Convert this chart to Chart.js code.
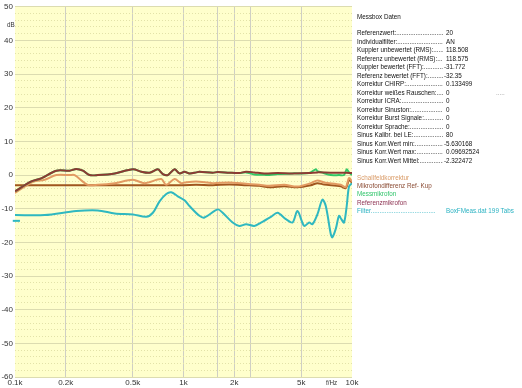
<!DOCTYPE html>
<html lang="de">
<head>
<meta charset="UTF-8">
<title>Messbox Daten</title>
<script src="https://cdn.jsdelivr.net/npm/chart.js"></script>
<style>
  body { margin: 0; background: #fff; font-family: "Liberation Sans", Arial, sans-serif; }
  #wrap { position: relative; width: 522px; height: 388px; overflow: hidden; }
  #wrap canvas { position: absolute; left: 0; top: 0; }
  .t { position: absolute; font-size: 7px; line-height: 8px; white-space: nowrap; color: #111; }
  .t span { display: inline-block; transform: scaleX(0.9); transform-origin: left center; }
  .lbl { overflow: hidden; }
</style>
</head>
<body>
<div id="wrap">
  <canvas id="chart" width="522" height="388"></canvas>
  <div id="panel"></div>
</div>
<script>
  // Frequenzgaenge [Hz, dB]
  const referenzmikrofon = [
    [100, -4.8], [125, -1.9], [143, -1], [176, 1.3], [211, 1.3], [231, 1.8], [253, 1.3],
    [277, 0], [310, 0], [391, 0.5], [501, 1.7], [562, 1.0], [629, 0.7], [704, 1.7],
    [754, 0.3], [807, 0], [885, 1.7], [947, 0.5], [1014, 1.0], [1085, 0.5], [1189, 0.8],
    [1243, 1.0], [1490, 0.7], [1596, 0.9], [1871, 0.7], [2143, 0.6], [2350, 1.0],
    [2630, 0.8], [3015, 0.5], [3614, 0.6], [4435, 0.5], [5568, 0.6], [6233, 0.8],
    [7480, 0.7], [9178, 0.7], [10000, 0.6]
  ]
  const messmikrofon = [
    [100, -4.8], [125, -1.9], [143, -1], [176, 1.3], [211, 1.3], [231, 1.8], [253, 1.3],
    [277, 0], [310, 0], [391, 0.5], [501, 1.7], [562, 1.0], [629, 0.7], [704, 1.7],
    [754, 0.3], [807, 0], [885, 1.7], [947, 0.5], [1014, 1.0], [1085, 0.5], [1189, 0.8],
    [1243, 1.0], [1490, 0.7], [1596, 0.9], [1871, 0.7], [2143, 0.6], [2350, 0.8],
    [2630, 0.2], [3015, 0.1], [3228, 0], [3614, 0.3], [4435, 0.5], [5568, 0.6],
    [6096, 1.7], [6233, 1.2], [6600, 0.8], [7480, 0], [8377, 0], [8970, 0],
    [9302, 1.7], [9600, 0.8], [10000, 0]
  ]
  const schallfeldkorrektur = [
    [100, -5.3], [128, -2], [150, -1.4], [176, 0], [211, 0], [226, 0], [270, -2.9],
    [310, -2.9], [391, -2.4], [501, -1.4], [588, -2.4], [738, -1.2], [790, -2.9],
    [885, -1.2], [969, -2.4], [1014, -2.2], [1189, -1.9], [1490, -2.4], [1871, -2.2],
    [2350, -2.6], [2817, -2.9], [3228, -3.2], [3960, -2.9], [4748, -3.4], [5697, -2.4],
    [6233, -1.6], [6829, -2.2], [8570, -2.9], [9178, -3.6], [9600, -0.9], [10000, -1.9]
  ]
  const mikrofondifferenz = [
    [100, -3], [1000, -3], [1189, -2.9], [1490, -3.0], [1871, -2.8], [2350, -3.0],
    [2817, -3.2], [3228, -3.6], [3960, -3.3], [4748, -3.6], [5697, -3.0], [6233, -2.4],
    [6829, -2.8], [8570, -3.3], [9178, -3.9], [9600, -1.5], [10000, -2.2]
  ]
  const filterStart = [[97, -13.6], [107, -13.6]]
  const filterKurve = [
    [100, -11.9], [150, -11.9], [231, -10.7], [310, -10.5], [391, -11.4], [501, -11.7],
    [601, -12.4], [658, -11.2], [721, -7.8], [790, -5.6], [846, -5.1], [925, -6.3],
    [1014, -7.5], [1085, -9.2], [1243, -12.1], [1331, -12.6], [1596, -10.2], [1708, -11.2],
    [1957, -14.1], [2143, -15.1], [2350, -14.6], [2630, -15.1], [2883, -14.1],
    [3303, -12.4], [3614, -11.2], [4052, -13.1], [4435, -14.1], [4748, -10.7],
    [5200, -15.1], [5568, -14.1], [5823, -14.6], [6233, -11.7], [6673, -7.3],
    [6990, -9.2], [7480, -17.5], [7644, -18.5], [8011, -16], [8377, -12.1],
    [8642, -13.1], [8970, -14.1], [9302, -9.2], [9600, -3.4], [10000, -2.4]
  ]

  // Achsen
  const xTicks = [100, 200, 500, 1000, 1600, 2000, 2500, 5000, 10000]
  const xTickLabels = { 100: "0.1k", 200: "0.2k", 500: "0.5k", 1000: "1k", 2000: "2k", 5000: "5k", 10000: "10k" }

  // Messbox Daten
  const infoLabels = [
    "Referenzwert:", "Individualfilter:", "Kuppler unbewertet (RMS):", "Referenz unbewertet (RMS):",
    "Kuppler bewertet (FFT):", "Referenz bewertet (FFT):", "Korrektur CHIRP:",
    "Korrektur weißes Rauschen:", "Korrektur ICRA:", "Korrektur Sinuston:",
    "Korrektur Burst Signale:", "Korrektur Sprache:", "Sinus Kalibr. bei LE:",
    "Sinus Korr.Wert min:", "Sinus Korr.Wert max:", "Sinus Korr.Wert Mittel:"
  ]
  const infoValues = [
    "20", "AN", "118.508", "118.575", "-31.772", "-32.35", "0.133499", "0", "0", "0",
    "0", "0", "80", "-5.630168", "0.09692524", "-2.322472"
  ]
  const legendNames = ["Schallfeldkorrektur", "Mikrofondifferenz Ref- Kup", "Messmikrofon", "Referenzmikrofon", "Filter"]
  const legendColors = ["#d99a66", "#8a4a32", "#2fc46a", "#8c3050", "#2ab2c2"]

  const dots = ".".repeat(80)
  const panel = document.getElementById("panel")
  function addText(txt, left, top, color, width) {
    const d = document.createElement("div")
    d.className = "t" + (width ? " lbl" : "")
    d.style.left = left + "px"
    d.style.top = top - 4 + "px"
    if (width) d.style.width = width + "px"
    if (color) d.style.color = color
    const s = document.createElement("span")
    s.textContent = txt
    d.appendChild(s)
    panel.appendChild(d)
  }
  addText("Messbox Daten", 357, 17)
  infoLabels.forEach((l, i) => {
    const y = 33 + i * 8.5
    addText(l + dots, 357, y, null, 86)
    const v = infoValues[i]
    addText(v, v[0] === "-" ? 444 : 446, y)
  })
  addText(".....", 496, 33 + 7 * 8.5, "#999")
  legendNames.forEach((l, i) => {
    const y = 177.5 + i * 8.4
    if (l === "Filter") {
      addText(l + dots, 357, y, legendColors[i], 79)
      addText("BoxFMeas.dat 199 Tabs", 446, y, legendColors[i])
    } else {
      addText(l, 357, y, legendColors[i])
    }
  })
  addText("dB", 7, 25, "#333")
  addText("f/Hz", 326, 383, "#333")

  const toXY = (arr) => arr.map(([x, y]) => ({ x, y }))

  const plotBg = {
    id: "plotBg",
    beforeDraw(chart) {
      const { ctx, chartArea: a } = chart
      ctx.save()
      ctx.fillStyle = "#ffffcc"
      ctx.fillRect(a.left, a.top, a.right - a.left, a.bottom - a.top)
      ctx.restore()
    },
  }

  const line = (data, color, order, extra) => Object.assign({
    data: toXY(data),
    borderColor: color,
    borderWidth: 2,
    pointRadius: 0,
    tension: 0.3,
    fill: false,
    order,
  }, extra || {})

  new Chart(document.getElementById("chart"), {
    type: "line",
    data: {
      datasets: [
        line(referenzmikrofon, "#8c3b33", 1),
        line(messmikrofon, "#33c866", 2),
        line(schallfeldkorrektur, "#e29a62", 3),
        line(mikrofondifferenz, "#a0561e", 4),
        line(filterKurve, "#2fb8c0", 5),
        line(filterStart, "#2fb8c0", 5, { clip: false, tension: 0 }),
      ],
    },
    options: {
      responsive: false,
      animation: false,
      events: [],
      layout: { padding: { top: 5, right: 170, left: 0, bottom: 0 } },
      plugins: { legend: { display: false }, tooltip: { enabled: false } },
      scales: {
        x: {
          type: "logarithmic",
          min: 100,
          max: 10000,
          afterBuildTicks: (s) => { s.ticks = xTicks.map((v) => ({ value: v })) },
          afterFit: (s) => { s.height = 11 },
          ticks: {
            autoSkip: false,
            maxRotation: 0,
            padding: 1,
            color: "#333",
            font: { size: 8, family: "Liberation Sans" },
            callback: (v) => xTickLabels[v] || "",
          },
          grid: {
            color: (c) => (c.tick && (c.tick.value === 100 || c.tick.value === 10000) ? "rgba(0,0,0,0)" : "#cfcfc4"),
            drawTicks: false,
          },
          border: { display: false },
        },
        y: {
          min: -60,
          max: 50,
          position: "left",
          afterFit: (s) => { s.width = 15 },
          ticks: {
            stepSize: 10,
            padding: 2,
            color: "#333",
            font: { size: 8, family: "Liberation Sans" },
          },
          grid: { color: "#dcdcb0", drawTicks: false },
          border: { display: false },
        },
        y2: {
          min: -60,
          max: 50,
          position: "left",
          afterFit: (s) => { s.width = 0 },
          ticks: { stepSize: 2, display: false },
          grid: {
            color: (c) => (c.tick && c.tick.value % 10 === 0 ? "rgba(0,0,0,0)" : "#e2e2a8"),
            drawTicks: false,
          },
          border: { display: false, dash: [1, 2] },
        },
      },
    },
    plugins: [plotBg],
  })
</script>
</body>
</html>
